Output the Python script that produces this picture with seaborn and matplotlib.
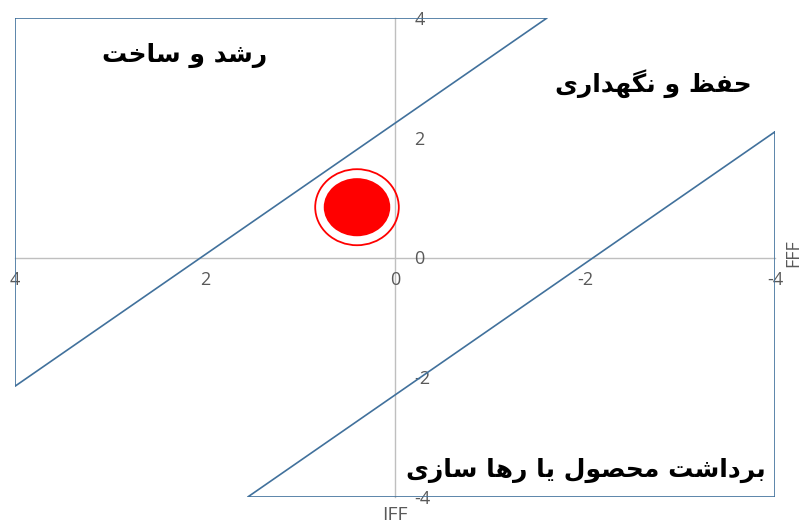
import matplotlib
matplotlib.use("Agg")
import matplotlib.pyplot as plt
from matplotlib.patches import Ellipse
import pandas as pd
import seaborn as sns

# strategy zones (triangles), IFF on x, FFF on y
tri_names = ["grow", "grow", "grow", "grow", "harvest", "harvest", "harvest", "harvest"]
tri_x = [4, -1.6, 4, 4, -4, -4, 1.55, -4]
tri_y = [4, 4, -2.15, 4, 2.1, -4, -4, 2.1]

# company position
point_x = [0.4]
point_y = [0.84]

zone_labels = ["رشد و ساخت", "حفظ و نگهداری", "برداشت محصول یا رها سازی"]
label_x = [2.22, -2.72, -2.01]
label_y = [3.38, 2.91, -3.55]

ticks = [4, 2, 0, -2, -4]

# minimal arabic shaping (matplotlib has no text shaping)
FORMS = {
    "ا": ("\uFE8D", "\uFE8E", None, None),
    "ب": ("\uFE8F", "\uFE90", "\uFE91", "\uFE92"),
    "ت": ("\uFE95", "\uFE96", "\uFE97", "\uFE98"),
    "ح": ("\uFEA1", "\uFEA2", "\uFEA3", "\uFEA4"),
    "خ": ("\uFEA5", "\uFEA6", "\uFEA7", "\uFEA8"),
    "د": ("\uFEA9", "\uFEAA", None, None),
    "ر": ("\uFEAD", "\uFEAE", None, None),
    "ز": ("\uFEAF", "\uFEB0", None, None),
    "س": ("\uFEB1", "\uFEB2", "\uFEB3", "\uFEB4"),
    "ش": ("\uFEB5", "\uFEB6", "\uFEB7", "\uFEB8"),
    "ص": ("\uFEB9", "\uFEBA", "\uFEBB", "\uFEBC"),
    "ظ": ("\uFEC5", "\uFEC6", "\uFEC7", "\uFEC8"),
    "ف": ("\uFED1", "\uFED2", "\uFED3", "\uFED4"),
    "ل": ("\uFEDD", "\uFEDE", "\uFEDF", "\uFEE0"),
    "م": ("\uFEE1", "\uFEE2", "\uFEE3", "\uFEE4"),
    "ن": ("\uFEE5", "\uFEE6", "\uFEE7", "\uFEE8"),
    "ه": ("\uFEE9", "\uFEEA", "\uFEEB", "\uFEEC"),
    "و": ("\uFEED", "\uFEEE", None, None),
    "گ": ("\uFB92", "\uFB93", "\uFB94", "\uFB95"),
    "ی": ("\uFBFC", "\uFBFD", "\uFBFE", "\uFBFF"),
}


def shape(s):
    out = []
    for i, c in enumerate(s):
        if c not in FORMS:
            out.append(c)
            continue
        prev = s[i - 1] if i > 0 else ""
        nxt = s[i + 1] if i + 1 < len(s) else ""
        jp = prev in FORMS and FORMS[prev][2] is not None
        jn = FORMS[c][2] is not None and nxt in FORMS
        f = FORMS[c]
        if jp and jn:
            out.append(f[3])
        elif jp:
            out.append(f[1])
        elif jn:
            out.append(f[2])
        else:
            out.append(f[0])
    return "".join(reversed(out))


sns.set_theme(style="white")
plt.rcParams["font.family"] = ["Open Sans", "DejaVu Sans"]

fig = plt.figure(figsize=(8.01, 5.27), dpi=100)
ax = fig.add_axes([15 / 801, 30 / 527, 760 / 801, 479 / 527])

df = pd.DataFrame({"zone": tri_names, "IFF": tri_x, "FFF": tri_y})
sns.lineplot(data=df, x="IFF", y="FFF", units="zone", estimator=None, sort=False,
             color="#41719C", linewidth=1.2, ax=ax)

ax.set_xlim(4, -4)
ax.set_ylim(-4, 4)

for s in ["top", "left"]:
    ax.spines[s].set_visible(False)
ax.spines["bottom"].set_position(("data", 0))
ax.spines["right"].set_position(("data", 0))
for s in ["bottom", "right"]:
    ax.spines[s].set_color("#BFBFBF")
    ax.spines[s].set_linewidth(1.0)
    ax.spines[s].set_zorder(0)

ax.yaxis.tick_right()
ax.set_xticks(ticks)
ax.set_yticks(ticks)
ax.set_xticklabels([str(t) for t in ticks])
ax.set_yticklabels([str(t) for t in ticks])
ax.tick_params(axis="x", length=0, pad=10, labelsize=13, labelcolor="#595959")
ax.tick_params(axis="y", length=0, pad=14, labelsize=13, labelcolor="#595959")

ax.set_xlabel("IFF", fontsize=14, color="#595959")
ax.set_ylabel("FFF", fontsize=13, color="#595959", rotation=90)
ax.xaxis.set_label_coords(0.5, -0.018)
ax.yaxis.set_label_position("right")
ax.yaxis.set_label_coords(1.012, 0.51)

for px, py in zip(point_x, point_y):
    ax.add_patch(Ellipse((px, py), 0.88, 1.27, facecolor="none", edgecolor="red", linewidth=1.3, zorder=3))
    ax.add_patch(Ellipse((px, py), 0.70, 0.97, facecolor="red", edgecolor="none", zorder=3))

for t, lx, ly in zip(zone_labels, label_x, label_y):
    ax.text(lx, ly, shape(t), ha="center", va="center", fontsize=18, fontweight="bold",
            color="black", family=["DejaVu Sans"])

fig.savefig("out.png", dpi=100)
